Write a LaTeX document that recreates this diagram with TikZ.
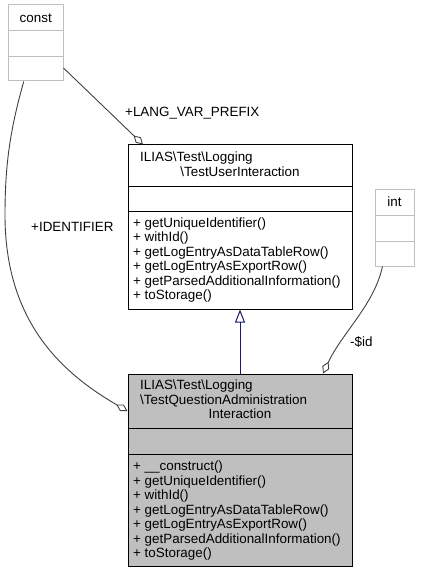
\documentclass[tikz,border=0pt]{standalone}
\usepackage{fontspec}
\setmainfont{Liberation Sans}
\usetikzlibrary{arrows.meta}
\definecolor{edgegray}{HTML}{404040}
\definecolor{boxgray}{HTML}{BFBFBF}
\definecolor{inhblue}{HTML}{191970}
\tikzset{
  umlbox/.style={draw=black, line width=1bp, inner sep=0pt},
  litebox/.style={draw=boxgray, line width=1bp, inner sep=0pt},
  txt/.style={inner sep=0pt, font=\fontsize{13.4bp}{14.5bp}\selectfont},
  comp/.style={draw=edgegray, line width=0.9bp, -{Diamond[open,length=13bp,width=7.5bp,line width=0.9bp]}},
  inh/.style={draw=inhblue, line width=1bp, -{Triangle[open,length=13bp,width=10bp,line width=1bp]}}
}
\begin{document}
\begin{tikzpicture}[x=1bp,y=-1bp]
\useasboundingbox (0,0) rectangle (420,573);
% boxes
\node[litebox, minimum width=54.5bp, minimum height=76bp] (const) at (35.75,43) {};
\node[litebox, minimum width=39bp, minimum height=77bp] (int) at (394.5,227.5) {};
\node[umlbox, minimum width=224bp, minimum height=164bp] (tui) at (240,227) {};
\node[umlbox, fill=boxgray, minimum width=224bp, minimum height=192bp] (main) at (240,470) {};
% dividers
\draw[boxgray, line width=1bp] (const.west |- 0,31) -- (const.east |- 0,31);
\draw[boxgray, line width=1bp] (const.west |- 0,57) -- (const.east |- 0,57);
\draw[boxgray, line width=1bp] (int.west |- 0,215) -- (int.east |- 0,215);
\draw[boxgray, line width=1bp] (int.west |- 0,241) -- (int.east |- 0,241);
\draw[line width=1bp] (tui.west |- 0,186) -- (tui.east |- 0,186);
\draw[line width=1bp] (tui.west |- 0,211) -- (tui.east |- 0,211);
\draw[line width=1bp] (main.west |- 0,428) -- (main.east |- 0,428);
\draw[line width=1bp] (main.west |- 0,454) -- (main.east |- 0,454);
% texts
\node[txt, anchor=base] (constname) at (35.75,23) {const};
\node[txt, anchor=base] (intname) at (394.5,206.5) {int};
\node[txt, anchor=base west] (tuin1) at (140,162) {ILIAS\textbackslash Test\textbackslash Logging};
\node[txt, anchor=base] (tuin2) at (240,176.5) {\textbackslash TestUserInteraction};
\foreach \t [count=\i from 0] in {getUniqueIdentifier(), withId(), getLogEntryAsDataTableRow(), getLogEntryAsExportRow(), getParsedAdditionalInformation(), toStorage()}
  \node[txt, anchor=base west] (tuim\i) at (133,227+14.5*\i) {+ \t};
\node[txt, anchor=base west] (mainn1) at (140,389.5) {ILIAS\textbackslash Test\textbackslash Logging};
\node[txt, anchor=base west] (mainn2) at (140,404) {\textbackslash TestQuestionAdministration};
\node[txt, anchor=base] (mainn3) at (240,418.5) {Interaction};
\foreach \t [count=\i from 0] in {\_\_construct(), getUniqueIdentifier(), withId(), getLogEntryAsDataTableRow(), getLogEntryAsExportRow(), getParsedAdditionalInformation(), toStorage()}
  \node[txt, anchor=base west] (mainm\i) at (133,470.5+14.5*\i) {+ \t};
% edges
\draw[inh] (main.north) -- (tui.south);
\draw[comp] ([yshift=-25bp]const.east) -- ([xshift=-97bp]tui.north);
\draw[comp] ([xshift=-12bp]const.south) .. controls (10,130) and (5,165) .. (5,215)
   .. controls (5,320) and (60,372) .. ([yshift=59bp]main.west);
\draw[comp] ([xshift=-12bp]int.south) .. controls (374,305) and (342,333) .. ([xshift=83bp]main.north);
% edge labels
\node[txt, anchor=base west] (lblprefix) at (125,117) {+LANG\_VAR\_PREFIX};
\node[txt, anchor=base west] (lblident) at (31,231) {+IDENTIFIER};
\node[txt, anchor=base west] (lblid) at (350,346) {-\$id};
\end{tikzpicture}
\end{document}
